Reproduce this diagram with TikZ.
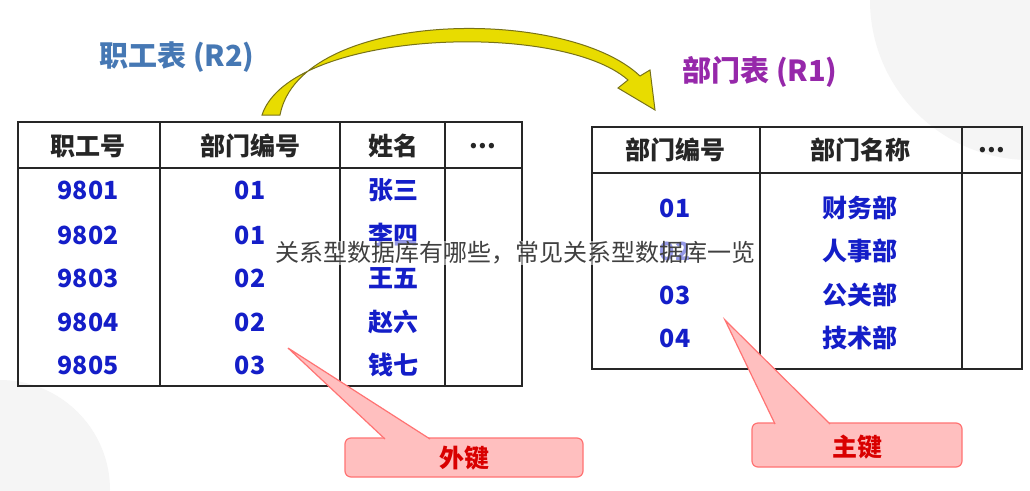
\documentclass[tikz,border=0pt]{standalone}
\usepackage{fontspec}
\setmainfont{Noto Sans CJK SC}
\definecolor{tblue}{RGB}{70,120,180}
\definecolor{tpurp}{RGB}{150,40,170}
\definecolor{dblue}{RGB}{20,30,200}
\begin{document}
\begin{tikzpicture}[x=1pt,y=-1pt,
  tbl/.style={line width=2.2pt,draw=black!85},
  hd/.style={font=\fontsize{25}{27}\selectfont\bfseries,text=black!85},
  dt/.style={font=\fontsize{25}{27}\selectfont\bfseries,text=dblue},
  callout/.style={fill=red!25,draw=red!55,line width=1.2pt,rounded corners=6pt},
  key/.style={font=\fontsize{25}{27}\selectfont\bfseries,text=red!85!black}]
\useasboundingbox (0,0) rectangle (1030,490);
\fill[white] (0,0) rectangle (1030,490);
\fill[black!4] (1030,0) circle (160);
\fill[black!4] (0,490) circle (110);
% titles
\node[font=\fontsize{29}{31}\selectfont\bfseries,text=tblue] (t2) at (177,57) {职工表 (R2)};
\node[font=\fontsize{29}{31}\selectfont\bfseries,text=tpurp] (t1) at (760,72) {部门表 (R1)};
% curved arrow
\filldraw[draw=olive!80!black,line width=1pt,fill=yellow!80!olive]
 (262,115) .. controls (290,30) and (560,20) .. (628,80)
 -- (618,88) -- (655,110) -- (650,70) -- (640,76)
 .. controls (565,5) and (300,10) .. (280,115) -- cycle;
% left table
\draw[tbl] (18,122) rectangle (522,386);
\draw[tbl] (18,168) -- (522,168);
\foreach \x in {160,340,445} \draw[tbl] (\x,122) -- (\x,386);
\node[hd] (h1) at (88,146) {职工号};
\node[hd] (h2) at (250,146) {部门编号};
\node[hd] (h3) at (393,146) {姓名};
\node[hd] (h4) at (483,146) {...};
\foreach \y/\a/\b/\c in {190/9801/01/张三,235/9802/01/李四,278/9803/02/王五,322/9804/02/赵六,365/9805/03/钱七}{
  \node[dt] at (88,\y) {\a};
  \node[dt] at (250,\y) {\b};
  \node[dt] at (393,\y) {\c};}
% right table
\draw[tbl] (592,127) rectangle (1022,369);
\draw[tbl] (592,173) -- (1022,173);
\foreach \x in {760,962} \draw[tbl] (\x,127) -- (\x,369);
\node[hd] (g1) at (675,150) {部门编号};
\node[hd] (g2) at (860,150) {部门名称};
\node[hd] (g3) at (992,150) {...};
\foreach \y/\a/\b in {208/01/财务部,251/02/人事部,295/03/公关部,338/04/技术部}{
  \node[dt] at (675,\y) {\a};
  \node[dt] at (860,\y) {\b};}
% callouts
\draw[callout] (345,438) rectangle (583,477);
\filldraw[fill=red!25,draw=red!55,line width=1.2pt] (385,439) -- (288,348) -- (430,439);
\fill[red!25] (387,441) rectangle (428,444);
\node[key] (fk) at (464,458) {外键};
\draw[callout] (752,423) rectangle (962,467);
\filldraw[fill=red!25,draw=red!55,line width=1.2pt] (775,424) -- (725,320) -- (830,424);
\fill[red!25] (777,426) rectangle (828,429);
\node[key] (pk) at (857,447) {主键};
% watermark
\node[font=\fontsize{24}{26}\selectfont,text=black!75,fill=white,fill opacity=0.55,text opacity=1,inner sep=1pt] (wm) at (515,253) {关系型数据库有哪些，常见关系型数据库一览};
\end{tikzpicture}
\end{document}
